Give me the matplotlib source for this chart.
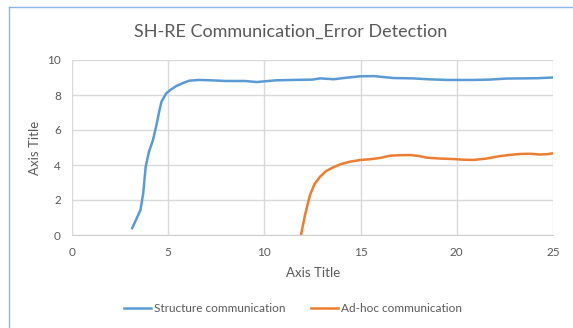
import matplotlib
matplotlib.use("Agg")
import matplotlib.pyplot as plt
from matplotlib.lines import Line2D

plt.rcParams['font.family'] = ['Lato', 'DejaVu Sans']

# values
structure_x = [3.1, 3.3, 3.56, 3.7, 3.83, 4.0, 4.21, 4.39, 4.52, 4.65, 4.9, 5.15, 5.42,
               5.8, 6.11, 6.63, 7.2, 8.0, 9.0, 9.6, 10.6, 11.5, 12.5, 12.9, 13.6,
               14.2, 15.0, 15.7, 16.7, 17.7, 18.5, 19.5, 20.9, 21.7, 22.6, 23.5, 24.2, 25.0]
structure_y = [0.33, 0.8, 1.43, 2.38, 3.9, 4.76, 5.43, 6.29, 7.0, 7.62, 8.1, 8.32, 8.51,
               8.7, 8.82, 8.86, 8.84, 8.8, 8.8, 8.74, 8.84, 8.86, 8.88, 8.95, 8.9,
               8.98, 9.07, 9.08, 8.97, 8.95, 8.9, 8.86, 8.86, 8.88, 8.94, 8.95, 8.96, 9.0]

adhoc_x = [11.9, 12.11, 12.37, 12.6, 12.89, 13.2, 13.58, 14.0, 14.45, 15.0, 15.49, 16.0,
           16.53, 17.0, 17.57, 18.0, 18.43, 19.1, 19.82, 20.4, 20.86, 21.5, 22.25, 22.8,
           23.28, 23.8, 24.32, 24.7, 25.0]
adhoc_y = [0.0, 1.14, 2.29, 2.9, 3.33, 3.65, 3.87, 4.06, 4.19, 4.29, 4.33, 4.4,
           4.53, 4.56, 4.57, 4.52, 4.42, 4.37, 4.34, 4.3, 4.29, 4.36, 4.51, 4.58,
           4.63, 4.64, 4.6, 4.62, 4.67]

series_labels = ['Structure communication', 'Ad-hoc communication']
series_colors = ['#5b9bd5', '#ed7d31']
chart_title = 'SH-RE Communication_Error Detection'
x_ticks = [0, 5, 10, 15, 20, 25]
y_ticks = [0, 2, 4, 6, 8, 10]

W, H = 573, 328
fig = plt.figure(figsize=(W / 100, H / 100), dpi=100)
ax = fig.add_axes([72 / W, 1 - 235 / H, (553 - 72) / W, (235 - 60) / H])

ax.plot(structure_x, structure_y, color=series_colors[0], lw=1.8, solid_capstyle='butt')
ax.plot(adhoc_x, adhoc_y, color=series_colors[1], lw=1.8, solid_capstyle='butt')

ax.set_xlim(0, 25)
ax.set_ylim(0, 10)
ax.set_xticks(x_ticks)
ax.set_yticks(y_ticks)
ax.grid(True, color='#d9d9d9', lw=1)
ax.set_axisbelow(True)
for side in ['top', 'right', 'left']:
    ax.spines[side].set_visible(False)
ax.spines['bottom'].set_color('#d0d0d0')
ax.tick_params(length=0, labelsize=8.5, colors='#595959', pad=9)
ax.tick_params(axis='y', pad=8)

fig.text(313 / W, 1 - 273 / H, 'Axis Title', ha='center', va='center',
         fontsize=9.5, color='#595959')
fig.text(35 / W, 1 - 148 / H, 'Axis Title', ha='center', va='center',
         rotation=90, fontsize=9.5, color='#595959')
fig.text(291 / W, 1 - 32 / H, chart_title, ha='center', va='center',
         fontsize=13, color='#595959')

handles = [Line2D([], [], color=c, lw=1.8) for c in series_colors]
fig.legend(handles, series_labels, loc='center', bbox_to_anchor=(293 / W, 1 - 309 / H),
           ncol=2, frameon=False, fontsize=8.5, labelcolor='#595959',
           handlelength=2.3, handletextpad=0.2, columnspacing=2.2)

# outer chart frame (only left and top edges visible in the crop)
frame_color = '#8eb4e3'
fig.add_artist(Line2D([9 / W, 9 / W], [0, 1 - 7 / H], color=frame_color, lw=1,
                      transform=fig.transFigure))
fig.add_artist(Line2D([9 / W, 1], [1 - 7 / H, 1 - 7 / H], color=frame_color, lw=1,
                      transform=fig.transFigure))

fig.savefig('out.png', dpi=100)
